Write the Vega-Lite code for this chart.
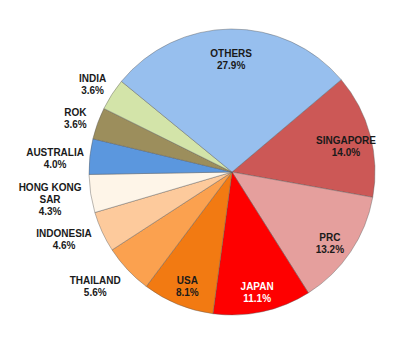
{
  "$schema": "https://vega.github.io/schema/vega-lite/v6.json",
  "width": 368,
  "height": 344,
  "autosize": {"type": "none"},
  "padding": {"left": 48, "top": 0, "right": 0, "bottom": 0},
  "background": "white",
  "config": {"view": {"stroke": null}},
  "data": {
    "values": [
      {"i": 1, "name": "SINGAPORE", "share": 14.0, "label": "SINGAPORE\n14.0%", "pos": "in"},
      {"i": 2, "name": "PRC", "share": 13.2, "label": "PRC\n13.2%", "pos": "in"},
      {"i": 3, "name": "JAPAN", "share": 11.1, "label": "JAPAN\n11.1%", "pos": "in"},
      {"i": 4, "name": "USA", "share": 8.1, "label": "USA\n8.1%", "pos": "in"},
      {"i": 5, "name": "THAILAND", "share": 5.6, "label": "THAILAND\n5.6%", "pos": "low"},
      {"i": 6, "name": "INDONESIA", "share": 4.6, "label": "INDONESIA\n4.6%", "pos": "low"},
      {"i": 7, "name": "HONG KONG SAR", "share": 4.3, "label": "HONG KONG\nSAR\n4.3%", "pos": "low"},
      {"i": 8, "name": "AUSTRALIA", "share": 4.0, "label": "AUSTRALIA\n4.0%", "pos": "mid"},
      {"i": 9, "name": "ROK", "share": 3.6, "label": "ROK\n3.6%", "pos": "high"},
      {"i": 10, "name": "INDIA", "share": 3.6, "label": "INDIA\n3.6%", "pos": "high"},
      {"i": 11, "name": "OTHERS", "share": 27.9, "label": "OTHERS\n27.9%", "pos": "in"}
    ]
  },
  "encoding": {
    "theta": {"field": "share", "type": "quantitative", "stack": true, "scale": {"range": [0.869, 7.152]}},
    "order": {"field": "i", "type": "quantitative"}
  },
  "layer": [
    {
      "mark": {"type": "arc", "outerRadius": 143, "stroke": "#5a5a5a", "strokeWidth": 0.6, "strokeOpacity": 0.7},
      "encoding": {
        "color": {
          "field": "name",
          "type": "nominal",
          "legend": null,
          "scale": {
            "domain": ["SINGAPORE", "PRC", "JAPAN", "USA", "THAILAND", "INDONESIA", "HONG KONG SAR", "AUSTRALIA", "ROK", "INDIA", "OTHERS"],
            "range": ["#CC5856", "#E59F9D", "#FE0000", "#F27A12", "#FBA14F", "#FDCA9C", "#FEF5E8", "#5B97DE", "#9C8E5C", "#D3E4A9", "#97BFEE"]
          }
        }
      }
    },
    {
      "mark": {"type": "text", "radius": 118, "font": "Liberation Sans", "fontWeight": "bold", "fontSize": 10, "lineBreak": "\n", "lineHeight": 12},
      "encoding": {
        "text": {"condition": {"test": "datum.pos == 'in'", "field": "label"}, "value": ""},
        "color": {"condition": {"test": "datum.name == 'JAPAN'", "value": "#ffffff"}, "value": "#1a1a1a"}
      }
    },
    {
      "mark": {"type": "text", "radius": 175, "dx": -9, "dy": -11, "font": "Liberation Sans", "fontWeight": "bold", "fontSize": 10, "lineBreak": "\n", "lineHeight": 12, "color": "#1a1a1a"},
      "encoding": {
        "text": {"condition": {"test": "datum.pos == 'low'", "field": "label"}, "value": ""}
      }
    },
    {
      "mark": {"type": "text", "radius": 178, "font": "Liberation Sans", "fontWeight": "bold", "fontSize": 10, "lineBreak": "\n", "lineHeight": 12, "color": "#1a1a1a"},
      "encoding": {
        "text": {"condition": {"test": "datum.pos == 'mid'", "field": "label"}, "value": ""}
      }
    },
    {
      "mark": {"type": "text", "radius": 172, "dx": 5, "font": "Liberation Sans", "fontWeight": "bold", "fontSize": 10, "lineBreak": "\n", "lineHeight": 12, "color": "#1a1a1a"},
      "encoding": {
        "text": {"condition": {"test": "datum.pos == 'high'", "field": "label"}, "value": ""}
      }
    }
  ]
}
